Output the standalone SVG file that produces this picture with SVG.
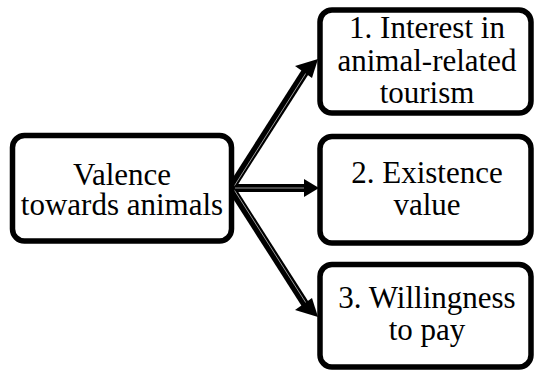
<svg xmlns="http://www.w3.org/2000/svg" width="536" height="371" viewBox="0 0 536 371">
<defs>
<marker id="ah" markerUnits="userSpaceOnUse" markerWidth="20" markerHeight="20" refX="16" refY="9" orient="auto">
<polygon points="0,0 16,9 0,18" fill="#000"/>
</marker>
</defs>
<rect width="536" height="371" fill="#fff"/>
<g id="connectors" fill="none" stroke="#000" stroke-width="8">
<path d="M231,188 L309,66"/>
<path d="M231,188 L306,188"/>
<path d="M231,188 L309,310"/>
<g stroke="#fff" stroke-width="0.8" opacity="0.75">
<path d="M233,188 L306,73"/>
<path d="M233,188 L304,188"/>
<path d="M233,188 L306,303"/>
</g>
<g stroke="none" fill="#000">
<polygon points="318,59 295,66 312,78"/>
<polygon points="319,188 304,179 304,197"/>
<polygon points="318,317 295,310 312,298"/>
<circle cx="231" cy="188" r="4"/>
</g>
</g>
<g id="valence">
<rect x="12.5" y="135.5" width="219" height="105.5" rx="12" fill="#fff" stroke="#000" stroke-width="5.5"/>
<text x="122" y="185" font-family="Liberation Serif" font-size="31" text-anchor="middle">Valence</text>
<text x="122" y="215" font-family="Liberation Serif" font-size="31" text-anchor="middle">towards animals</text>
</g>
<g id="interest">
<rect x="320" y="10" width="211" height="103" rx="12" fill="#fff" stroke="#000" stroke-width="5.5"/>
<text x="427" y="38" font-family="Liberation Serif" font-size="31" text-anchor="middle">1. Interest in</text>
<text x="427" y="71" font-family="Liberation Serif" font-size="31" text-anchor="middle">animal-related</text>
<text x="427" y="103" font-family="Liberation Serif" font-size="31" text-anchor="middle">tourism</text>
</g>
<g id="existence">
<rect x="320" y="136.5" width="211" height="106.5" rx="12" fill="#fff" stroke="#000" stroke-width="5.5"/>
<text x="427" y="183" font-family="Liberation Serif" font-size="31" text-anchor="middle">2. Existence</text>
<text x="427" y="215" font-family="Liberation Serif" font-size="31" text-anchor="middle">value</text>
</g>
<g id="willingness">
<rect x="320" y="264.5" width="211" height="102.5" rx="12" fill="#fff" stroke="#000" stroke-width="5.5"/>
<text x="427" y="308" font-family="Liberation Serif" font-size="31" text-anchor="middle">3. Willingness</text>
<text x="427" y="340" font-family="Liberation Serif" font-size="31" text-anchor="middle">to pay</text>
</g>
</svg>
